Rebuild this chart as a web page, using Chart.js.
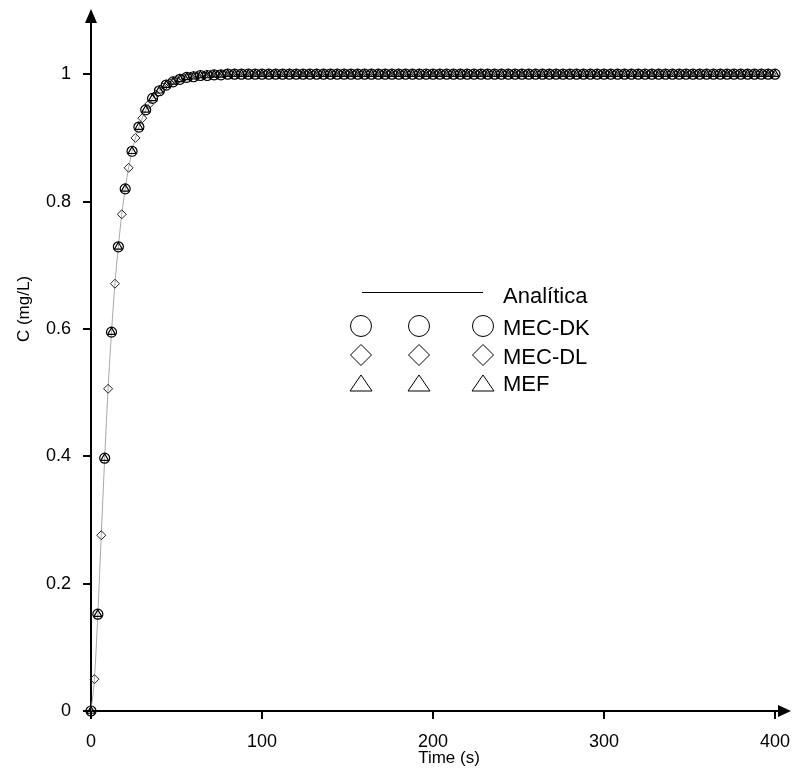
<!DOCTYPE html>
<html>
<head>
<meta charset="utf-8">
<script src="https://cdn.jsdelivr.net/npm/chart.js@4.4.1/dist/chart.umd.min.js"></script>
<style>
  html, body { margin: 0; padding: 0; background: #fff; }
  canvas { display: block; }
</style>
</head>
<body>
<canvas id="concChart" width="792" height="770"></canvas>
<script>
// tick labels
const xTicks = [0, 100, 200, 300, 400];
const yTicks = [0, 0.2, 0.4, 0.6, 0.8, 1];

// analytical solution (grey line)
const tempoAnalitica = [0, 2, 4, 6, 8, 10, 12, 14, 16, 18, 20, 22, 24, 26, 28, 30, 32,
    36, 40, 44, 48, 52, 56, 60, 64, 68, 72, 76, 80, 100, 200, 300, 400];
const analitica = [0, 0.05, 0.152, 0.276, 0.397, 0.506, 0.595, 0.671, 0.729, 0.780, 0.820, 0.853, 0.879, 0.900, 0.917, 0.931, 0.944,
    0.962, 0.974, 0.983, 0.988, 0.992, 0.995, 0.996, 0.998, 0.998, 0.999, 0.999, 1, 1, 1, 1, 1];

// MEC-DK (circles) and MEF (triangles), every 4 s
const tempoDK = [0, 4, 8, 12, 16, 20, 24, 28, 32, 36, 40, 44, 48, 52, 56, 60, 64, 68, 72, 76,
    80, 84, 88, 92, 96, 100, 104, 108, 112, 116, 120, 124, 128, 132, 136, 140, 144, 148, 152, 156,
    160, 164, 168, 172, 176, 180, 184, 188, 192, 196, 200, 204, 208, 212, 216, 220, 224, 228, 232, 236,
    240, 244, 248, 252, 256, 260, 264, 268, 272, 276, 280, 284, 288, 292, 296, 300, 304, 308, 312, 316,
    320, 324, 328, 332, 336, 340, 344, 348, 352, 356, 360, 364, 368, 372, 376, 380, 384, 388, 392, 396,
    400];
const mecDK = [0, 0.152, 0.397, 0.595, 0.729, 0.820, 0.879, 0.917, 0.944, 0.962, 0.974, 0.983, 0.988, 0.992, 0.995, 0.996, 0.998, 0.998, 0.999, 0.999,
    1, 1, 1, 1, 1, 1, 1, 1, 1, 1, 1, 1, 1, 1, 1, 1, 1, 1, 1, 1,
    1, 1, 1, 1, 1, 1, 1, 1, 1, 1, 1, 1, 1, 1, 1, 1, 1, 1, 1, 1,
    1, 1, 1, 1, 1, 1, 1, 1, 1, 1, 1, 1, 1, 1, 1, 1, 1, 1, 1, 1,
    1, 1, 1, 1, 1, 1, 1, 1, 1, 1, 1, 1, 1, 1, 1, 1, 1, 1, 1, 1,
    1];
// MEF sits on top of MEC-DK in the figure
const tempoMEF = tempoDK;
const mef = mecDK.slice();

// MEC-DL (diamonds), in between
const tempoDL = [2, 6, 10, 14, 18, 22, 26, 30, 34, 38, 42, 46, 50, 54, 58, 62, 66, 70, 74, 78,
    82, 86, 90, 94, 98, 102, 106, 110, 114, 118, 122, 126, 130, 134, 138, 142, 146, 150, 154, 158,
    162, 166, 170, 174, 178, 182, 186, 190, 194, 198, 202, 206, 210, 214, 218, 222, 226, 230, 234, 238,
    242, 246, 250, 254, 258, 262, 266, 270, 274, 278, 282, 286, 290, 294, 298, 302, 306, 310, 314, 318,
    322, 326, 330, 334, 338, 342, 346, 350, 354, 358, 362, 366, 370, 374, 378, 382, 386, 390, 394, 398];
const mecDL = [0.050, 0.276, 0.506, 0.671, 0.780, 0.853, 0.900, 0.931, 0.953, 0.968, 0.979, 0.986, 0.990, 0.994, 0.996, 0.997, 0.998, 0.999, 0.999, 1,
    1, 1, 1, 1, 1, 1, 1, 1, 1, 1, 1, 1, 1, 1, 1, 1, 1, 1, 1, 1,
    1, 1, 1, 1, 1, 1, 1, 1, 1, 1, 1, 1, 1, 1, 1, 1, 1, 1, 1, 1,
    1, 1, 1, 1, 1, 1, 1, 1, 1, 1, 1, 1, 1, 1, 1, 1, 1, 1, 1, 1,
    1, 1, 1, 1, 1, 1, 1, 1, 1, 1, 1, 1, 1, 1, 1, 1, 1, 1, 1, 1];

const FONT = "'Liberation Sans', Arial, sans-serif";

function toPoints(xs, ys) {
    return xs.map(function(x, i) { return { x: x, y: ys[i] }; });
}

// marker shapes for the hand-made legend
function drawMarker(ctx, style, x, y, r) {
    ctx.beginPath();
    if (style === 'circle') {
        ctx.arc(x, y, r, 0, Math.PI * 2);
    } else if (style === 'diamond') {
        ctx.moveTo(x - r, y);
        ctx.lineTo(x, y - r);
        ctx.lineTo(x + r, y);
        ctx.lineTo(x, y + r);
        ctx.closePath();
    } else {
        ctx.moveTo(x, y - 10);
        ctx.lineTo(x + 11, y + 6);
        ctx.lineTo(x - 11, y + 6);
        ctx.closePath();
    }
    ctx.stroke();
}

// arrows, axis titles and legend
const decorPlugin = {
    id: 'decor',
    afterDraw(chart) {
        const ctx = chart.ctx;
        const area = chart.chartArea;
        const x0 = chart.scales.x.getPixelForValue(0);
        const y0 = chart.scales.y.getPixelForValue(0);
        ctx.save();
        ctx.strokeStyle = '#000';
        ctx.fillStyle = '#000';
        ctx.lineWidth = 2;

        // x axis goes on past 400 to its arrow
        ctx.beginPath();
        ctx.moveTo(area.right - 1, y0);
        ctx.lineTo(782, y0);
        ctx.stroke();
        ctx.beginPath();
        ctx.moveTo(791, y0);
        ctx.lineTo(778, y0 - 6);
        ctx.lineTo(778, y0 + 6);
        ctx.closePath();
        ctx.fill();

        // y axis arrow
        ctx.beginPath();
        ctx.moveTo(x0, 9);
        ctx.lineTo(x0 - 6, 23);
        ctx.lineTo(x0 + 6, 23);
        ctx.closePath();
        ctx.fill();

        // axis titles
        ctx.font = '17px ' + FONT;
        ctx.textAlign = 'center';
        ctx.textBaseline = 'middle';
        ctx.fillText('Time (s)', 449, 758);
        ctx.save();
        ctx.translate(24, 309);
        ctx.rotate(-Math.PI / 2);
        ctx.fillText('C (mg/L)', 0, 0);
        ctx.restore();

        // legend
        ctx.lineWidth = 1;
        ctx.beginPath();
        ctx.moveTo(362, 292.5);
        ctx.lineTo(483, 292.5);
        ctx.stroke();
        const cols = [361, 419, 483];
        const rows = [
            { style: 'circle', y: 326, r: 10.5, label: 'MEC-DK', base: 335 },
            { style: 'diamond', y: 355, r: 10.5, label: 'MEC-DL', base: 364 },
            { style: 'triangle', y: 385, r: 10.5, label: 'MEF', base: 391 }
        ];
        ctx.font = '22px ' + FONT;
        ctx.textAlign = 'left';
        ctx.textBaseline = 'alphabetic';
        ctx.fillText('Analítica', 503, 303);
        rows.forEach(function(row) {
            cols.forEach(function(cx) { drawMarker(ctx, row.style, cx, row.y, row.r); });
            ctx.fillText(row.label, 503, row.base);
        });
        ctx.restore();
    }
};

const ctx = document.getElementById('concChart').getContext('2d');

new Chart(ctx, {
    type: 'line',
    data: {
        datasets: [{
            label: 'Analítica',
            data: toPoints(tempoAnalitica, analitica),
            borderColor: '#a8a8a8',
            borderWidth: 1,
            pointRadius: 0,
            cubicInterpolationMode: 'monotone',
            fill: false,
            order: 10
        }, {
            label: 'MEC-DL',
            data: toPoints(tempoDL, mecDL),
            showLine: false,
            pointStyle: 'rectRot',
            pointRadius: 4.5,
            pointBorderWidth: 1,
            pointBorderColor: '#222',
            pointBackgroundColor: 'rgba(255,255,255,0)',
            clip: false,
            order: 3
        }, {
            label: 'MEC-DK',
            data: toPoints(tempoDK, mecDK),
            showLine: false,
            pointStyle: 'circle',
            pointRadius: 5,
            pointBorderWidth: 1.2,
            pointBorderColor: '#000',
            pointBackgroundColor: 'rgba(255,255,255,0)',
            clip: false,
            order: 2
        }, {
            label: 'MEF',
            data: toPoints(tempoMEF, mef),
            showLine: false,
            pointStyle: 'triangle',
            pointRadius: 4.5,
            pointBorderWidth: 1.2,
            pointBorderColor: '#000',
            pointBackgroundColor: 'rgba(255,255,255,0)',
            clip: false,
            order: 1
        }]
    },
    options: {
        responsive: false,
        animation: false,
        layout: { padding: { top: 12, right: 17, left: 0, bottom: 0 } },
        plugins: {
            legend: { display: false },
            tooltip: { enabled: false }
        },
        scales: {
            x: {
                type: 'linear',
                min: 0,
                max: 400,
                afterFit: function(scale) {
                    scale.height = 59;
                    scale.paddingLeft = 0;
                    scale.paddingRight = 0;
                },
                afterBuildTicks: function(scale) {
                    scale.ticks = xTicks.map(function(v) { return { value: v }; });
                },
                grid: {
                    drawOnChartArea: false,
                    drawTicks: true,
                    tickLength: 8,
                    color: '#000',
                    lineWidth: 2
                },
                border: { display: true, color: '#000', width: 2 },
                ticks: {
                    color: '#000',
                    padding: 12,
                    maxRotation: 0,
                    font: { family: FONT, size: 18 },
                    callback: function(v) { return String(v); }
                }
            },
            y: {
                type: 'linear',
                min: 0,
                max: 1.0977,
                afterFit: function(scale) {
                    scale.width = 91;
                    scale.paddingTop = 0;
                    scale.paddingBottom = 0;
                },
                afterBuildTicks: function(scale) {
                    scale.ticks = yTicks.map(function(v) { return { value: v }; });
                },
                grid: {
                    drawOnChartArea: false,
                    drawTicks: true,
                    tickLength: 8,
                    color: '#000',
                    lineWidth: 2
                },
                border: { display: true, color: '#000', width: 2 },
                ticks: {
                    color: '#000',
                    padding: 12,
                    font: { family: FONT, size: 18 },
                    callback: function(v) { return String(v); }
                }
            }
        }
    },
    plugins: [decorPlugin]
});
</script>
</body>
</html>
